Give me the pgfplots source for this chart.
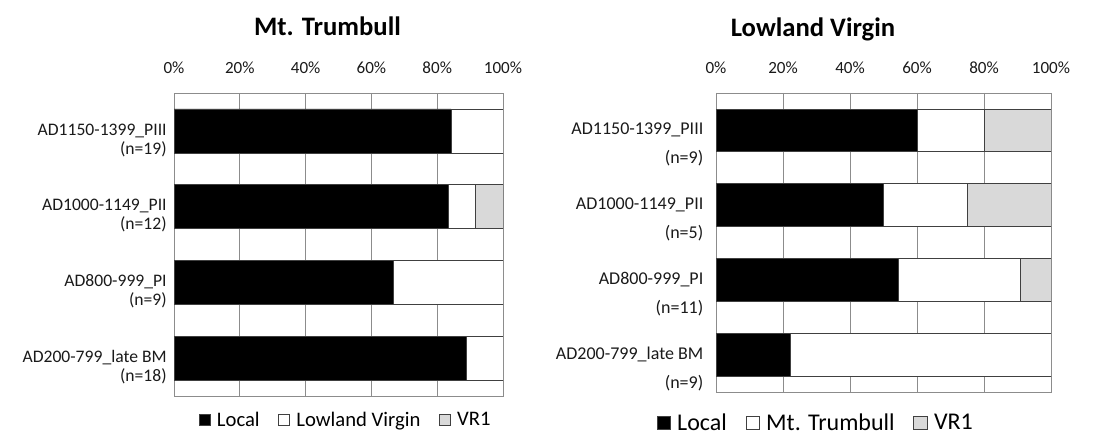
\documentclass[border=0pt]{standalone}
\usepackage{pgfplots}
\pgfplotsset{compat=1.18}
\usepackage{fontspec}
\setmainfont{Carlito}
\definecolor{gridc}{HTML}{8C8C8C}
\definecolor{vrone}{HTML}{D9D9D9}
\definecolor{edgec}{HTML}{404040}
\definecolor{tickc}{HTML}{1A1A1A}

\pgfplotsset{
  mybar/.style={
    xbar stacked, scale only axis, y dir=reverse,
    xmin=0, xmax=100, ymin=-0.5, ymax=3.5,
    xtick={0,20,40,60,80,100},
    xticklabels={0\%,20\%,40\%,60\%,80\%,100\%},
    xticklabel pos=upper,
    xticklabel style={font=\fontsize{12.8}{15}\selectfont, text=tickc, anchor=center, yshift=19pt},
    ytick={0,1,2,3},
    major tick length=0pt,
    xmajorgrids, grid style={gridc, line width=0.6pt},
    axis line style={gridc, line width=0.6pt},
    bar width=0.58,
    every axis plot/.append style={draw=edgec, line width=0.5pt},
    legend style={draw=none, fill=none, legend columns=-1,
      /tikz/every even column/.append style={column sep=12pt}},
  }
}

\begin{document}
\begin{tikzpicture}
\path[use as bounding box] (0pt,0pt) rectangle (824.25pt,328.5pt);

\begin{axis}[mybar,
  at={(130.5pt,31.5pt)}, anchor=south west,
  width=246.75pt, height=227.25pt,
  yticklabels={AD1150-1399\_PIII\\(n=19), AD1000-1149\_PII\\(n=12), AD800-999\_PI\\(n=9), AD200-799\_late BM\\(n=18)},
  yticklabel style={align=right, font=\fontsize{13.2}{14.25}\selectfont, yshift=-7pt, xshift=-2pt, text=tickc},
  legend image code/.code={\draw[#1] (0pt,-4pt) rectangle (8pt,4pt); \path (11pt,0pt);},
  legend style={font=\fontsize{15.5}{17}\selectfont, at={(0.523,-0.079)}, anchor=center},
]
\addplot[fill=black] coordinates {(84.2,0) (83.3,1) (66.7,2) (88.9,3)};
\addlegendentry{Local}
\addplot[fill=white] coordinates {(15.8,0) (8.3,1) (33.3,2) (11.1,3)};
\addlegendentry{Lowland Virgin}
\addplot[fill=vrone] coordinates {(0,0) (8.4,1) (0,2) (0,3)};
\addlegendentry{VR1}
\end{axis}

\begin{axis}[mybar,
  at={(537pt,34.5pt)}, anchor=south west,
  width=251.25pt, height=224.25pt,
  bar width=0.57,
  yticklabels={AD1150-1399\_PIII\\(n=9), AD1000-1149\_PII\\(n=5), AD800-999\_PI\\(n=11), AD200-799\_late BM\\(n=9)},
  yticklabel style={align=right, font=\fontsize{13.5}{21.75}\selectfont, yshift=-10.9pt, xshift=-6pt, text=tickc},
  legend image code/.code={\draw[#1] (0pt,-5pt) rectangle (10pt,5pt); \path (13pt,0pt);},
  legend style={font=\fontsize{18}{20}\selectfont, at={(0.2985,-0.104)}, anchor=center},
]
\addplot[fill=black] coordinates {(60,0) (50,1) (54.5,2) (22.2,3)};
\addlegendentry{Local}
\addplot[fill=white] coordinates {(20,0) (25,1) (36.4,2) (77.8,3)};
\addlegendentry{Mt. Trumbull}
\addplot[fill=vrone] coordinates {(20,0) (25,1) (9.1,2) (0,3)};
\addlegendentry{VR1}
\end{axis}

\node[font=\fontsize{20}{24}\selectfont\bfseries] at (245.6pt,308.8pt) {Mt. Trumbull};
\node[font=\fontsize{20}{24}\selectfont\bfseries] at (609.75pt,306.75pt) {Lowland Virgin};
\end{tikzpicture}
\end{document}
